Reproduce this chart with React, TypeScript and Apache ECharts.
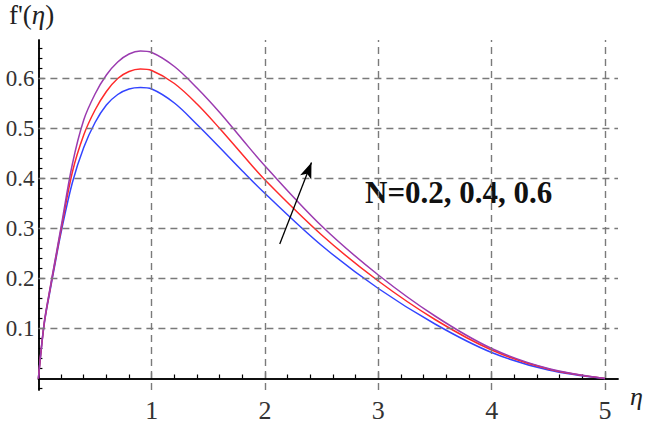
import { useEffect, useRef } from "react";
import * as echarts from "echarts";

// eta values (x)
const etaValues = [0, 0.05, 0.1, 0.15, 0.2, 0.3, 0.4, 0.5, 0.6, 0.7, 0.8, 0.9, 1.0, 1.2, 1.4, 1.6, 1.8, 2.0, 2.5, 3.0, 3.5, 4.0, 4.5, 5.0];
// f'(eta) for N = 0.2 (blue)
const fpN02 = [0, 0.106, 0.172, 0.233, 0.292, 0.392, 0.462, 0.512, 0.547, 0.568, 0.579, 0.582, 0.579, 0.551, 0.508, 0.462, 0.415, 0.37, 0.266, 0.18, 0.109, 0.052, 0.017, 0];
// f'(eta) for N = 0.4 (red)
const fpN04 = [0, 0.108, 0.175, 0.237, 0.298, 0.413, 0.487, 0.537, 0.574, 0.6, 0.614, 0.619, 0.616, 0.59, 0.549, 0.5, 0.448, 0.397, 0.287, 0.195, 0.118, 0.057, 0.019, 0];
// f'(eta) for N = 0.6 (purple)
const fpN06 = [0, 0.11, 0.177, 0.24, 0.303, 0.429, 0.517, 0.569, 0.607, 0.633, 0.649, 0.655, 0.652, 0.624, 0.581, 0.532, 0.478, 0.425, 0.305, 0.207, 0.125, 0.06, 0.02, 0];

const xTickValues = [1, 2, 3, 4, 5];
const xMinorTicks = [0.2, 0.4, 0.6, 0.8, 1.2, 1.4, 1.6, 1.8, 2.2, 2.4, 2.6, 2.8, 3.2, 3.4, 3.6, 3.8, 4.2, 4.4, 4.6, 4.8];
const yTickValues = [0.1, 0.2, 0.3, 0.4, 0.5, 0.6];
const yMinorTicks = [-0.02, 0.02, 0.04, 0.06, 0.08, 0.12, 0.14, 0.16, 0.18, 0.22, 0.24, 0.26, 0.28, 0.32, 0.34, 0.36, 0.38, 0.42, 0.44, 0.46, 0.48, 0.52, 0.54, 0.56, 0.58, 0.62, 0.64, 0.66];

const arrowStart = [2.13, 0.269];
const arrowEnd = [2.41, 0.432];

const serif = "'Liberation Serif', 'Times New Roman', serif";

function zip(xs: number[], ys: number[]) {
  return xs.map((x, i) => [x, ys[i]]);
}

export default function App() {
  const ref = useRef<HTMLDivElement>(null);
  useEffect(() => {
    if (!ref.current) return;
    const chart = echarts.init(ref.current, null, { renderer: "svg" });
    const axisLineStyle = { color: "#000", width: 1.5 };
    const tickLineStyle = { color: "#000", width: 1.2 };
    const xBase = {
      type: "value",
      min: 0,
      max: 5.115,
      position: "bottom",
      splitLine: { show: false },
    };
    const yBase = {
      type: "value",
      min: -0.023,
      max: 0.677,
      position: "left",
      splitLine: { show: false },
    };
    const curve = (name: string, ys: number[], color: string) => ({
      type: "line",
      name,
      data: zip(etaValues, ys),
      smooth: 0.35,
      showSymbol: false,
      z: 3,
      lineStyle: { color, width: 1.5 },
    });
    const option: any = {
      animation: false,
      grid: { left: 38.4, right: 28, top: 40, bottom: 17.7, containLabel: false },
      xAxis: [
        {
          ...xBase,
          axisLine: { show: true, onZero: true, onZeroAxisIndex: 0, lineStyle: axisLineStyle },
          axisTick: { show: true, inside: true, length: 6, customValues: xTickValues, lineStyle: tickLineStyle },
          axisLabel: { show: true, customValues: xTickValues, fontFamily: serif, fontSize: 26, color: "#333", margin: 7 },
        },
        {
          ...xBase,
          axisLine: { show: true, onZero: true, onZeroAxisIndex: 0, lineStyle: axisLineStyle },
          axisTick: { show: true, inside: true, length: 4, customValues: xMinorTicks, lineStyle: tickLineStyle },
          axisLabel: { show: false },
        },
      ],
      yAxis: [
        {
          ...yBase,
          axisLine: { show: true, onZero: false, lineStyle: axisLineStyle },
          axisTick: { show: true, inside: true, length: 6, customValues: yTickValues, lineStyle: tickLineStyle },
          axisLabel: {
            show: true,
            customValues: yTickValues,
            fontFamily: serif,
            fontSize: 23,
            color: "#333",
            margin: 4,
            formatter: (v: number) => v.toFixed(1),
          },
        },
        {
          ...yBase,
          axisLine: { show: true, onZero: false, lineStyle: axisLineStyle },
          axisTick: { show: true, inside: true, length: 4, customValues: yMinorTicks, lineStyle: tickLineStyle },
          axisLabel: { show: false },
        },
      ],
      series: [
        {
          type: "line",
          name: "grid",
          data: [],
          z: 1,
          silent: true,
          markLine: {
            silent: true,
            symbol: ["none", "none"],
            label: { show: false },
            emphasis: { disabled: true },
            lineStyle: { type: [7, 5], color: "#7a7a7a", width: 1.4 },
            data: [
              ...xTickValues.map((v) => ({ xAxis: v })),
              ...yTickValues.map((v) => ({ yAxis: v })),
            ],
          },
        },
        curve("N=0.2", fpN02, "#3344ff"),
        curve("N=0.4", fpN04, "#ff2a2a"),
        curve("N=0.6", fpN06, "#9b3bb0"),
        {
          type: "line",
          name: "arrow",
          data: [],
          z: 4,
          silent: true,
          markLine: {
            silent: true,
            symbol: ["none", "arrow"],
            symbolSize: [9, 16],
            label: { show: false },
            emphasis: { disabled: true },
            lineStyle: { type: "solid", color: "#000", width: 1.3 },
            data: [[{ coord: arrowStart }, { coord: arrowEnd }]],
          },
        },
      ],
      graphic: [
        {
          type: "text",
          left: 9,
          top: 1,
          style: {
            text: "{a|f'(}{b|η}{a|)}",
            rich: {
              a: { fontFamily: serif, fontSize: 27, fill: "#222" },
              b: { fontFamily: serif, fontSize: 27, fontStyle: "italic", fill: "#222" },
            },
          },
        },
        {
          type: "text",
          x: 630,
          y: 396,
          style: {
            text: "η",
            fontFamily: serif,
            fontSize: 26,
            fontStyle: "italic",
            fill: "#222",
            align: "left",
            verticalAlign: "middle",
          },
        },
        {
          type: "text",
          x: 365,
          y: 192,
          style: {
            text: "N=0.2, 0.4, 0.6",
            fontFamily: serif,
            fontSize: 31,
            fontWeight: "bold",
            fill: "#111",
            align: "left",
            verticalAlign: "middle",
          },
        },
      ],
    };
    chart.setOption(option);
    return () => chart.dispose();
  }, []);
  return (
    <div
      ref={ref}
      style={{ position: "fixed", left: 0, top: 0, width: 646, height: 423, background: "#fff" }}
    />
  );
}
